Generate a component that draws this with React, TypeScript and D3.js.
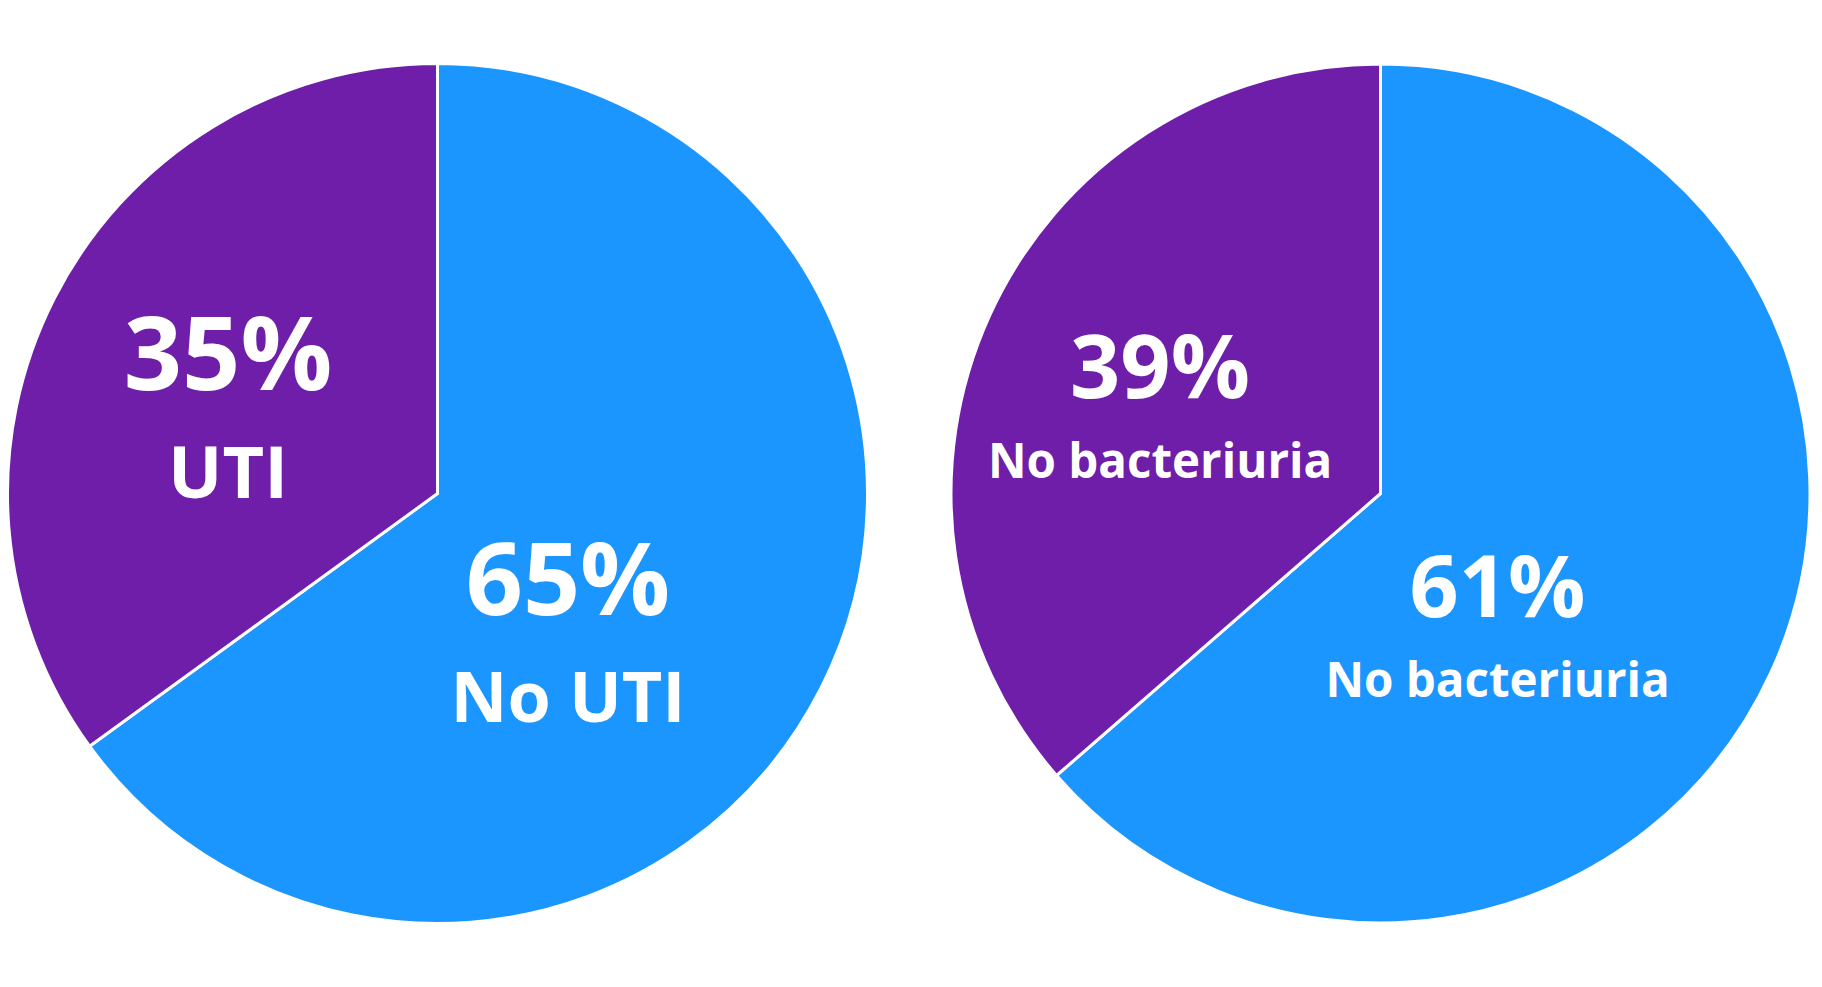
import React from "react";
import * as d3 from "d3";

// ---- data ----
const leftCategories = ["No UTI", "UTI"];
const leftValues = [65, 35];
const leftLabels = ["65%", "35%"];

const rightCategories = ["No bacteriuria", "No bacteriuria"];
// slice sizes as drawn in the picture (labels read 61% / 39%)
const rightValues = [63.6, 36.4];
const rightLabels = ["61%", "39%"];

const sliceColors = ["#1C96FF", "#6E1EA8"];

// ---- layout ----
const W = 1822;
const H = 987;

type LabelPos = { dx: number; dy: number; pctSize: number; catDy: number; catSize: number };

const pies = [
  {
    cx: 437.5,
    cy: 493.5,
    r: 430,
    categories: leftCategories,
    values: leftValues,
    labels: leftLabels,
    pos: [
      { dx: 130.5, dy: 121.5, pctSize: 100, catDy: 228, catSize: 70 },
      { dx: -209.5, dy: -103.5, pctSize: 102, catDy: 4.5, catSize: 72 },
    ] as LabelPos[],
  },
  {
    cx: 1380.5,
    cy: 493.5,
    r: 429.5,
    categories: rightCategories,
    values: rightValues,
    labels: rightLabels,
    pos: [
      { dx: 117, dy: 123, pctSize: 86, catDy: 203, catSize: 47.5 },
      { dx: -220.5, dy: -96, pctSize: 88, catDy: -16, catSize: 47.5 },
    ] as LabelPos[],
  },
];

const FONT = "'Open Sans', Lato, 'DejaVu Sans', sans-serif";

export default function App() {
  return (
    <svg
      width={W}
      height={H}
      viewBox={`0 0 ${W} ${H}`}
      style={{ position: "absolute", left: 0, top: 0, background: "#fff" }}
    >
      {pies.map((p, pi) => {
        const arcs = d3.pie<number>().sort(null).value((d) => d)(p.values);
        const arcGen = d3.arc<d3.PieArcDatum<number>>().innerRadius(0).outerRadius(p.r);
        return (
          <g key={pi} transform={`translate(${p.cx},${p.cy})`}>
            {arcs.map((a, i) => (
              <path
                key={i}
                d={arcGen(a) || ""}
                fill={sliceColors[i]}
                stroke="#fff"
                strokeWidth={3}
                strokeLinejoin="miter"
              />
            ))}
            {arcs.map((a, i) => {
              const lp = p.pos[i];
              return (
                <g key={"l" + i} fill="#fff" fontFamily={FONT} fontWeight={700} textAnchor="middle">
                  <text x={lp.dx} y={lp.dy} fontSize={lp.pctSize}>
                    {p.labels[i]}
                  </text>
                  <text x={lp.dx} y={lp.catDy} fontSize={lp.catSize}>
                    {p.categories[i]}
                  </text>
                </g>
              );
            })}
          </g>
        );
      })}
    </svg>
  );
}
